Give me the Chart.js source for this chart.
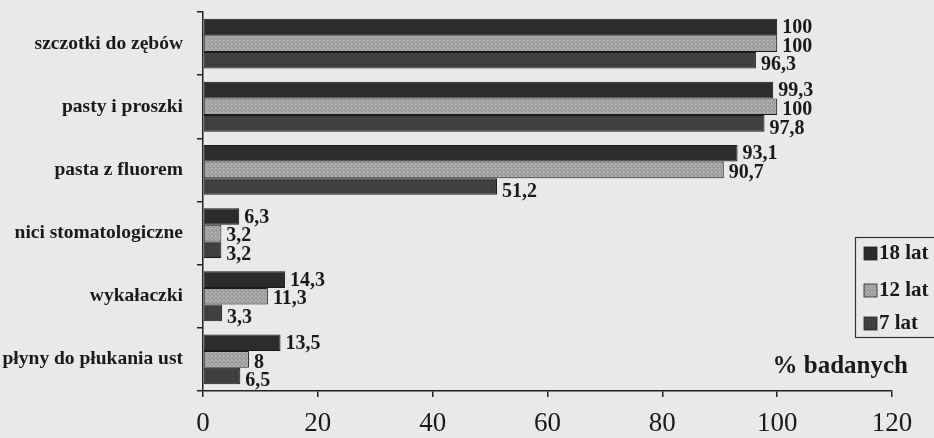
<!DOCTYPE html>
<html>
<head>
<meta charset="utf-8">
<script src="https://cdn.jsdelivr.net/npm/chart.js@4"></script>
<style>
  html, body { margin: 0; padding: 0; background: #e9e9e7; }
  #wrap { width: 934px; height: 438px; position: relative; }
</style>
</head>
<body>
<div id="wrap"><canvas id="chart" width="934" height="438"></canvas></div>
<script>
"use strict";

const categories = [
  "szczotki do zębów",
  "pasty i proszki",
  "pasta z fluorem",
  "nici stomatologiczne",
  "wykałaczki",
  "płyny do płukania ust",
];
const lat18 = [100, 99.3, 93.1, 6.3, 14.3, 13.5];
const lat12 = [100, 100, 90.7, 3.2, 11.3, 8];
const lat7 = [96.3, 97.8, 51.2, 3.2, 3.3, 6.5];
const xTicks = [0, 20, 40, 60, 80, 100, 120];

const serif = "'Liberation Serif', 'Times New Roman', serif";

// stippled fill like the printed greys
function dither(c1, c2) {
  const cv = document.createElement("canvas");
  cv.width = 4;
  cv.height = 4;
  const g = cv.getContext("2d");
  g.fillStyle = c1;
  g.fillRect(0, 0, 4, 4);
  g.fillStyle = c2;
  [[0, 0], [2, 1], [1, 2], [3, 3], [3, 0]].forEach(([x, y]) => g.fillRect(x, y, 1, 1));
  return g.createPattern(cv, "repeat");
}

const fill18 = "#2c2c2c";
const fill12 = dither("#9a9a9a", "#b8b8b8");
const fill7 = dither("#444444", "#353535");

const fmt = (v) => String(v).replace(".", ",");

// value labels at the end of each bar, nudged down a little per series
const labelDrop = [1, 3, 5];
const valueLabels = {
  id: "valueLabels",
  afterDatasetsDraw(chart) {
    const ctx = chart.ctx;
    ctx.save();
    ctx.font = "bold 20px " + serif;
    ctx.fillStyle = "#1a1a1a";
    ctx.textBaseline = "middle";
    ctx.textAlign = "left";
    chart.data.datasets.forEach((ds, i) => {
      chart.getDatasetMeta(i).data.forEach((bar, j) => {
        ctx.fillText(fmt(ds.data[j]), bar.x + 5, bar.y + labelDrop[i]);
      });
    });
    ctx.restore();
  },
};

// boxed legend and axis caption on the right
const sideNotes = {
  id: "sideNotes",
  afterDraw(chart) {
    const ctx = chart.ctx;
    ctx.save();
    ctx.strokeStyle = "#333";
    ctx.lineWidth = 1.2;
    ctx.strokeRect(855.5, 237.5, 90, 100);
    ctx.font = "bold 21px " + serif;
    ctx.textBaseline = "middle";
    const rows = [253, 290, 323];
    chart.data.datasets.forEach((ds, i) => {
      ctx.fillStyle = ds.backgroundColor;
      ctx.fillRect(864, rows[i] - 6, 13, 13);
      ctx.strokeStyle = "#222";
      ctx.lineWidth = 0.8;
      ctx.strokeRect(864, rows[i] - 6, 13, 13);
      ctx.fillStyle = "#1a1a1a";
      ctx.fillText(ds.label, 879, rows[i] + 1);
    });
    ctx.font = "bold 25px " + serif;
    ctx.textAlign = "right";
    ctx.fillText("% badanych", 908, 367);
    ctx.restore();
  },
};

new Chart(document.getElementById("chart"), {
  type: "bar",
  data: {
    labels: categories,
    datasets: [
      { label: "18 lat", data: lat18, backgroundColor: fill18 },
      { label: "12 lat", data: lat12, backgroundColor: fill12 },
      { label: "7 lat", data: lat7, backgroundColor: fill7 },
    ],
  },
  options: {
    indexAxis: "y",
    responsive: false,
    animation: false,
    layout: { padding: { top: 12, right: 42, left: 0, bottom: 0 } },
    datasets: {
      bar: {
        categoryPercentage: 0.79,
        barPercentage: 1,
        borderColor: "#1a1a1a",
        borderWidth: 1,
        borderSkipped: false,
      },
    },
    scales: {
      x: {
        min: 0,
        max: 120,
        afterBuildTicks: (s) => { s.ticks = xTicks.map((v) => ({ value: v })); },
        afterFit: (s) => {
          s.height = 47;
          s.paddingLeft = 0;
          s.paddingRight = 0;
        },
        grid: {
          drawOnChartArea: false,
          drawTicks: true,
          tickLength: 6,
          color: "#222",
          lineWidth: 1.5,
        },
        border: { color: "#222", width: 1.5 },
        ticks: {
          color: "#1a1a1a",
          padding: 11,
          maxRotation: 0,
          font: { family: serif, size: 27 },
        },
      },
      y: {
        afterFit: (s) => {
          s.width = 203;
          s.paddingTop = 0;
          s.paddingBottom = 0;
        },
        grid: {
          drawOnChartArea: false,
          offset: true,
          tickLength: 6,
          color: "#222",
          lineWidth: 1.5,
        },
        border: { color: "#222", width: 1.5 },
        ticks: {
          color: "#1a1a1a",
          padding: 14,
          font: { family: serif, size: 19.5, weight: "bold" },
        },
      },
    },
    plugins: {
      legend: { display: false },
      tooltip: { enabled: false },
    },
  },
  plugins: [valueLabels, sideNotes],
});
</script>
</body>
</html>
